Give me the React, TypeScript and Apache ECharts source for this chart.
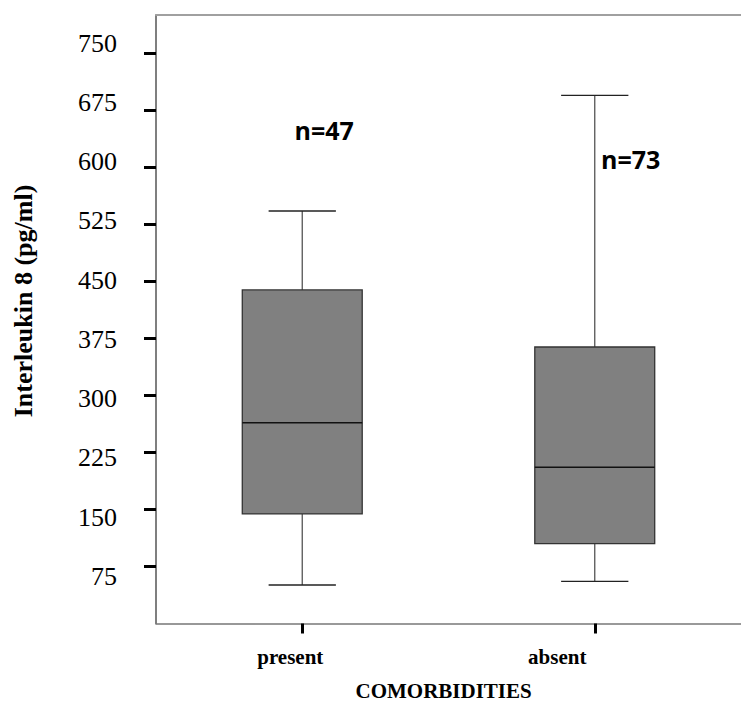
import React, { useEffect, useRef } from "react";
import * as echarts from "echarts";

const categories = ["present", "absent"];
const lowWhisker = [50.6, 55.5];
const q1Values = [144, 105];
const medianValues = [264, 205.4];
const q3Values = [438.5, 363.5];
const highWhisker = [542.3, 694.4];
const nLabels = ["n=47", "n=73"];
const nLabelValues = [649, 611];
const yTickValues = [75, 150, 225, 300, 375, 450, 525, 600, 675, 750];

export default function App() {
  const ref = useRef<HTMLDivElement>(null);

  useEffect(() => {
    document.body.style.margin = "0";
    const chart = echarts.init(ref.current!, null, { renderer: "svg" });

    const boxData = categories.map((_, i) => [
      i,
      lowWhisker[i],
      q1Values[i],
      medianValues[i],
      q3Values[i],
      highWhisker[i],
    ]);

    const renderItem = (params: any, api: any) => {
      const x = api.value(0);
      const low = api.coord([x, api.value(1)]);
      const q1 = api.coord([x, api.value(2)]);
      const med = api.coord([x, api.value(3)]);
      const q3 = api.coord([x, api.value(4)]);
      const high = api.coord([x, api.value(5)]);
      const band = api.size([1, 0])[0];
      const boxW = band * 0.41;
      const capW = band * 0.23;
      const cx = low[0];
      const lineStyle = { stroke: "#555", lineWidth: 1.3 };
      const capStyle = { stroke: "#222", lineWidth: 1.3 };
      return {
        type: "group",
        children: [
          { type: "line", shape: { x1: cx, y1: high[1], x2: cx, y2: q3[1] }, style: lineStyle },
          { type: "line", shape: { x1: cx, y1: q1[1], x2: cx, y2: low[1] }, style: lineStyle },
          { type: "line", shape: { x1: cx - capW / 2, y1: high[1], x2: cx + capW / 2, y2: high[1] }, style: capStyle },
          { type: "line", shape: { x1: cx - capW / 2, y1: low[1], x2: cx + capW / 2, y2: low[1] }, style: capStyle },
          {
            type: "rect",
            shape: { x: cx - boxW / 2, y: q3[1], width: boxW, height: q1[1] - q3[1] },
            style: { fill: "#808080", stroke: "#333", lineWidth: 1.3 },
          },
          {
            type: "line",
            shape: { x1: cx - boxW / 2, y1: med[1], x2: cx + boxW / 2, y2: med[1] },
            style: { stroke: "#111", lineWidth: 1.5 },
          },
        ],
      };
    };

    const labelOffsets = [
      [22, 0],
      [36, 0],
    ];

    chart.setOption({
      animation: false,
      backgroundColor: "#fff",
      grid: { left: 156, top: 15, width: 592, height: 608.5, containLabel: false },
      xAxis: [
        {
          type: "category",
          data: categories,
          position: "bottom",
          boundaryGap: true,
          axisLine: { show: true, lineStyle: { color: "#777", width: 1.5 } },
          axisTick: { show: true, alignWithLabel: true, length: 10, inside: false, lineStyle: { color: "#000", width: 3 } },
          axisLabel: {
            margin: 23,
            formatter: (v: string, i: number) => `{c${i}|${v}}`,
            rich: {
              c0: { fontFamily: "Liberation Serif", fontWeight: "bold", fontSize: 21, color: "#000", lineHeight: 21, padding: [0, 24, 0, 0] },
              c1: { fontFamily: "Liberation Serif", fontWeight: "bold", fontSize: 21, color: "#000", lineHeight: 21, padding: [0, 75, 0, 0] },
            },
          },
          splitLine: { show: false },
        },
        {
          type: "category",
          data: categories,
          position: "top",
          axisLine: { show: true, lineStyle: { color: "#a0a0a0", width: 2 } },
          axisTick: { show: false },
          axisLabel: { show: false },
          splitLine: { show: false },
        },
      ],
      yAxis: [
        {
          type: "value",
          min: 0,
          max: 800,
          position: "left",
          axisLine: { show: true, lineStyle: { color: "#555", width: 1.5 } },
          axisTick: { show: true, length: 12, customValues: yTickValues, lineStyle: { color: "#000", width: 3 } },
          axisLabel: { show: false },
          splitLine: { show: false },
        },
        {
          type: "value",
          min: 15.26,
          max: 785.44,
          position: "left",
          offset: 0,
          axisLine: { show: false },
          axisTick: { show: false },
          axisLabel: {
            show: true,
            customValues: yTickValues,
            margin: 39,
            fontFamily: "Liberation Serif",
            fontSize: 26,
            color: "#000",
          },
          splitLine: { show: false },
        },
      ],
      graphic: [
        {
          type: "text",
          x: 23.5,
          y: 301,
          rotation: Math.PI / 2,
          style: {
            text: "Interleukin 8 (pg/ml)",
            fontFamily: "Liberation Serif",
            fontWeight: "bold",
            fontSize: 26,
            fill: "#000",
            align: "center",
            verticalAlign: "middle",
          },
        },
        {
          type: "text",
          x: 443.6,
          y: 690.5,
          style: {
            text: "COMORBIDITIES",
            fontFamily: "Liberation Serif",
            fontWeight: "bold",
            fontSize: 21,
            lineHeight: 17,
            fill: "#000",
            align: "center",
            verticalAlign: "middle",
          },
        },
      ],
      series: [
        {
          type: "custom",
          xAxisIndex: 0,
          yAxisIndex: 0,
          renderItem,
          data: boxData,
          encode: { x: 0, y: [1, 2, 3, 4, 5] },
          clip: false,
        },
        {
          type: "scatter",
          xAxisIndex: 0,
          yAxisIndex: 0,
          symbolSize: 0,
          data: categories.map((c, i) => ({
            value: [c, nLabelValues[i]],
            label: { offset: labelOffsets[i] },
          })),
          label: {
            show: true,
            position: "inside",
            formatter: (p: any) => nLabels[p.dataIndex],
            fontFamily: "Open Sans",
            fontWeight: "bold",
            fontSize: 25,
            color: "#000",
            textBorderWidth: 0,
            opacity: 1,
          },
          itemStyle: { color: "#000", opacity: 1 },
          emphasis: { disabled: true },
          silent: true,
        },
      ],
    });

    return () => chart.dispose();
  }, []);

  return (
    <div
      ref={ref}
      style={{ position: "absolute", left: 0, top: 0, width: 741, height: 701 }}
    />
  );
}
